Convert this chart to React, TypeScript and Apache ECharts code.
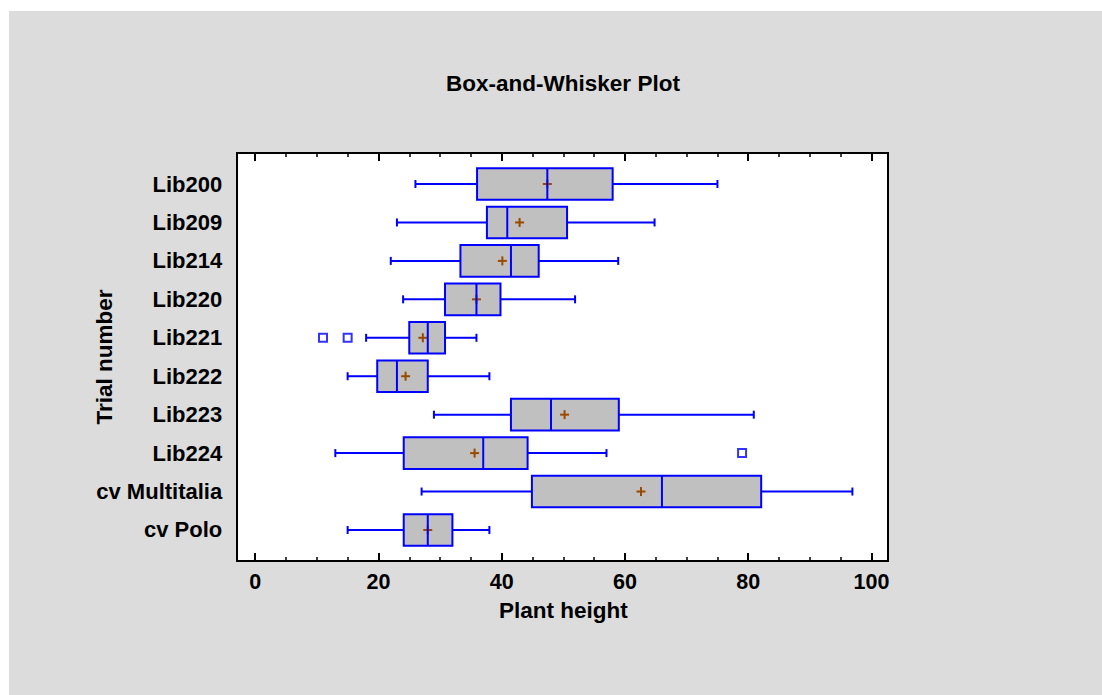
import React, { useEffect, useRef } from "react";
import * as echarts from "echarts";

const categories = ["Lib200", "Lib209", "Lib214", "Lib220", "Lib221", "Lib222", "Lib223", "Lib224", "cv Multitalia", "cv Polo"];
const whiskerLow = [26, 23, 22, 24, 18, 15, 29, 13, 27, 15];
const quartile1 = [36, 37.6, 33.3, 30.8, 25, 19.8, 41.5, 24.1, 44.9, 24.1];
const medians = [47.4, 40.9, 41.5, 35.9, 28, 23, 48, 37, 66, 28];
const quartile3 = [58, 50.6, 46, 39.8, 30.8, 28, 59, 44.2, 82.1, 32];
const whiskerHigh = [75, 64.8, 58.9, 51.9, 35.9, 38, 80.9, 57, 96.9, 38];
const means = [47.4, 42.9, 40.1, 35.9, 27.2, 24.4, 50.2, 35.6, 62.6, 28];
const outlierValues = [11, 15, 79];
const outlierCategories = ["Lib221", "Lib221", "Lib224"];
const xTickValues = [0, 20, 40, 60, 80, 100];

const FONT = "'Liberation Sans', Arial, Helvetica, sans-serif";
const BLUE = "#0000ff";
const BROWN = "#9a4a00";

export default function App() {
  const ref = useRef<HTMLDivElement>(null);

  useEffect(() => {
    document.body.style.margin = "0";
    if (!ref.current) return;
    const chart = echarts.init(ref.current, undefined, { renderer: "svg" });

    const boxData = categories.map((_, i) => [
      i,
      whiskerLow[i],
      quartile1[i],
      medians[i],
      quartile3[i],
      whiskerHigh[i],
      means[i],
    ]);
    const outlierData = outlierValues.map((v, i) => [v, categories.indexOf(outlierCategories[i])]);

    const tickStyle = {
      axisLine: { show: false },
      axisTick: { show: true, inside: true, length: 8, lineStyle: { color: "#000", width: 2 } },
      minorTick: { show: true, splitNumber: 4, length: 4, lineStyle: { color: "#000", width: 1.5 } },
      splitLine: { show: false },
      minorSplitLine: { show: false },
    };

    const option: any = {
      animation: false,
      backgroundColor: "transparent",
      textStyle: { fontFamily: FONT },
      graphic: [
        {
          type: "text",
          x: 563,
          y: 83,
          style: {
            text: "Box-and-Whisker Plot",
            fontFamily: FONT,
            fontSize: 22.5,
            fontWeight: "bold",
            fill: "#000",
            textAlign: "center",
            textVerticalAlign: "middle",
          },
        },
      ],
      grid: [
        { left: 237, right: 214, top: 153, bottom: 134, show: true, backgroundColor: "#fff", borderColor: "#000", borderWidth: 2 },
        { left: 255.2, right: 230.5, top: 153, bottom: 134 },
        { left: 255.2, right: 230.5, top: 164.8, bottom: 145.8 },
      ],
      xAxis: [
        { gridIndex: 0, type: "value", show: false, min: 0, max: 1 },
        {
          gridIndex: 1,
          type: "value",
          position: "bottom",
          min: xTickValues[0],
          max: xTickValues[xTickValues.length - 1],
          interval: 20,
          ...tickStyle,
          axisLabel: { margin: 10, color: "#000", fontSize: 21.5, fontWeight: "bold", fontFamily: FONT },
          name: "Plant height",
          nameLocation: "middle",
          nameGap: 38,
          nameMoveOverlap: false,
          nameTextStyle: { color: "#000", fontSize: 22.5, fontWeight: "bold", fontFamily: FONT },
        },
        {
          gridIndex: 1,
          type: "value",
          position: "top",
          min: xTickValues[0],
          max: xTickValues[xTickValues.length - 1],
          interval: 20,
          ...tickStyle,
          axisLabel: { show: false },
        },
        { gridIndex: 2, type: "value", show: false, min: 0, max: 100 },
      ],
      yAxis: [
        { gridIndex: 0, type: "value", show: false },
        { gridIndex: 1, type: "value", show: false },
        {
          gridIndex: 2,
          type: "category",
          data: categories,
          inverse: true,
          axisLine: { show: false },
          axisTick: { show: false },
          splitLine: { show: false },
          axisLabel: { margin: 33, color: "#000", fontSize: 22, fontWeight: "bold", fontFamily: FONT },
          name: "Trial number",
          nameLocation: "middle",
          nameGap: 139,
          nameRotate: 90,
          nameMoveOverlap: false,
          nameTextStyle: { color: "#000", fontSize: 22.5, fontWeight: "bold", fontFamily: FONT },
        },
      ],
      series: [
        {
          type: "custom",
          xAxisIndex: 3,
          yAxisIndex: 2,
          clip: false,
          encode: { x: [1, 2, 3, 4, 5, 6], y: 0 },
          data: boxData,
          renderItem: (params: any, api: any) => {
            const idx = api.value(0);
            const px = (v: number) => api.coord([v, idx])[0];
            const cy = api.coord([0, idx])[1];
            const half = 15.8;
            const cap = 4;
            const cr = 4.5;
            const lo = px(api.value(1));
            const q1 = px(api.value(2));
            const med = px(api.value(3));
            const q3 = px(api.value(4));
            const hi = px(api.value(5));
            const mn = px(api.value(6));
            const line = (x1: number, y1: number, x2: number, y2: number, color: string) => ({
              type: "line",
              shape: { x1, y1, x2, y2 },
              style: { stroke: color, lineWidth: 2 },
            });
            return {
              type: "group",
              children: [
                line(lo, cy, q1, cy, BLUE),
                line(q3, cy, hi, cy, BLUE),
                line(lo, cy - cap, lo, cy + cap, BLUE),
                line(hi, cy - cap, hi, cy + cap, BLUE),
                {
                  type: "rect",
                  shape: { x: q1, y: cy - half, width: q3 - q1, height: half * 2 },
                  style: { fill: "#c0c0c0", stroke: BLUE, lineWidth: 2 },
                },
                line(mn - cr, cy, mn + cr, cy, BROWN),
                line(mn, cy - cr, mn, cy + cr, BROWN),
                line(med, cy - half, med, cy + half, BLUE),
              ],
            };
          },
        },
        {
          type: "scatter",
          xAxisIndex: 3,
          yAxisIndex: 2,
          symbol: "rect",
          symbolSize: 8,
          z: 5,
          itemStyle: { color: "#fff", borderColor: BLUE, borderWidth: 2 },
          data: outlierData,
        },
      ],
    };

    chart.setOption(option);
    return () => chart.dispose();
  }, []);

  return (
    <div style={{ position: "relative", width: 1102, height: 695, background: "#fff", overflow: "hidden" }}>
      <div style={{ position: "absolute", left: 9, top: 11, right: 0, bottom: 0, background: "#dcdcdc" }} />
      <div ref={ref} style={{ position: "absolute", left: 0, top: 0, width: 1102, height: 695 }} />
    </div>
  );
}
